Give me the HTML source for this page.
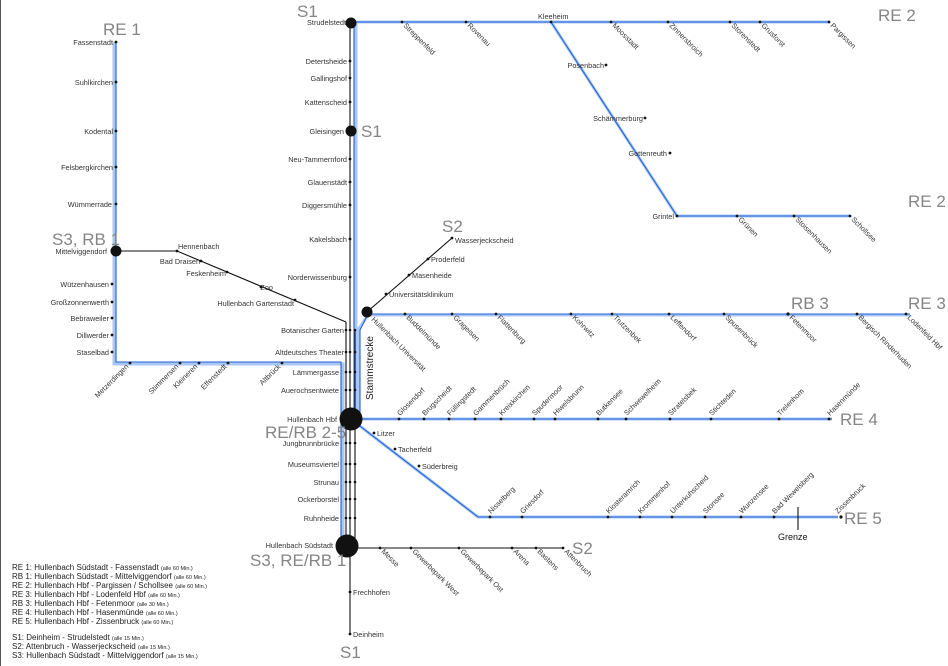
<!DOCTYPE html>
<html><head><meta charset="utf-8"><style>
html,body{margin:0;padding:0;background:#fff;width:948px;height:666px;overflow:hidden}
svg{display:block;font-family:"Liberation Sans",sans-serif}
.s{font-size:7.3px;fill:#333}
.b{font-size:17px;fill:#858585}
.lg{font-size:8px;fill:#222}
.lg tspan.m{font-size:5.5px}
</style></head><body>
<svg width="948" height="666" viewBox="0 0 948 666">
<line x1="0.5" y1="0" x2="0.5" y2="666" stroke="#555" stroke-width="1"/>
<g fill="none" stroke-linecap="butt">
<g stroke="#a8c7f4" stroke-width="3">
<polyline points="343,546 343,364 114,364 114,42"/>
<polyline points="356,420 356,22 830,22"/>
<line x1="551" y1="22" x2="677" y2="216"/>
<line x1="677" y1="216" x2="850" y2="216"/>
<polyline points="358,420 358,330 368,315 910,315"/>
<line x1="352" y1="419" x2="832" y2="419"/>
<polyline points="352,420 478,517 838,517"/>
</g>
<g stroke="#2361d4" stroke-width="1.1">
<polyline points="341,546 341,362 116,362 116,42"/>
<polyline points="354,420 354,22 830,22"/>
<line x1="551" y1="22" x2="677" y2="216"/>
<line x1="677" y1="216" x2="850" y2="216"/>
<polyline points="360,420 360,330 368,314 910,314"/>
<line x1="352" y1="419" x2="832" y2="419"/>
<polyline points="352,420 478,517 838,517"/>
</g>
<g stroke="#111" stroke-width="1.1">
<line x1="350" y1="22" x2="350" y2="634"/>
<line x1="346" y1="322" x2="346" y2="546"/>
<line x1="355" y1="330" x2="355" y2="546"/>
<polyline points="116,251 177,251 346,322"/>
<line x1="367" y1="312" x2="452" y2="238"/>
<line x1="350" y1="548" x2="563" y2="548"/>
<line x1="798" y1="507" x2="798" y2="530"/>
</g>
</g>
<g fill="#111">
<circle cx="350" cy="61" r="1.4"/><circle cx="350" cy="78" r="1.4"/><circle cx="350" cy="102" r="1.4"/><circle cx="350" cy="159" r="1.4"/><circle cx="350" cy="182" r="1.4"/><circle cx="350" cy="205" r="1.4"/><circle cx="350" cy="239" r="1.4"/><circle cx="350" cy="277" r="1.4"/>
<circle cx="346" cy="330" r="1.3"/><circle cx="350" cy="330" r="1.3"/><circle cx="355" cy="330" r="1.3"/>
<circle cx="346" cy="352" r="1.3"/><circle cx="350" cy="352" r="1.3"/><circle cx="355" cy="352" r="1.3"/>
<circle cx="346" cy="372" r="1.3"/><circle cx="350" cy="372" r="1.3"/><circle cx="355" cy="372" r="1.3"/>
<circle cx="346" cy="390" r="1.3"/><circle cx="350" cy="390" r="1.3"/><circle cx="355" cy="390" r="1.3"/>
<circle cx="346" cy="443" r="1.3"/><circle cx="350" cy="443" r="1.3"/><circle cx="355" cy="443" r="1.3"/>
<circle cx="346" cy="464" r="1.3"/><circle cx="350" cy="464" r="1.3"/><circle cx="355" cy="464" r="1.3"/>
<circle cx="346" cy="482" r="1.3"/><circle cx="350" cy="482" r="1.3"/><circle cx="355" cy="482" r="1.3"/>
<circle cx="346" cy="499" r="1.3"/><circle cx="350" cy="499" r="1.3"/><circle cx="355" cy="499" r="1.3"/>
<circle cx="346" cy="518" r="1.3"/><circle cx="350" cy="518" r="1.3"/><circle cx="355" cy="518" r="1.3"/>
<circle cx="350" cy="592" r="1.4"/><circle cx="350" cy="634" r="1.4"/>
<circle cx="402" cy="22" r="1.4"/><circle cx="466" cy="22" r="1.4"/><circle cx="551" cy="22" r="1.4"/><circle cx="611" cy="22" r="1.4"/><circle cx="668" cy="22" r="1.4"/><circle cx="730" cy="22" r="1.4"/><circle cx="760" cy="22" r="1.4"/><circle cx="829" cy="22" r="1.4"/>
<circle cx="606" cy="65" r="1.4"/><circle cx="645" cy="118" r="1.4"/><circle cx="670" cy="153" r="1.4"/><circle cx="677" cy="216" r="1.4"/>
<circle cx="737" cy="216" r="1.4"/><circle cx="794" cy="216" r="1.4"/><circle cx="850" cy="216" r="1.4"/>
<circle cx="386" cy="294" r="1.4"/><circle cx="409" cy="275" r="1.4"/><circle cx="428" cy="259" r="1.4"/><circle cx="452" cy="238" r="1.4"/>
<circle cx="405" cy="314" r="1.4"/><circle cx="452" cy="314" r="1.4"/><circle cx="496" cy="314" r="1.4"/><circle cx="571" cy="314" r="1.4"/><circle cx="612" cy="314" r="1.4"/><circle cx="669" cy="314" r="1.4"/><circle cx="724" cy="314" r="1.4"/><circle cx="788" cy="314" r="1.6"/><circle cx="857" cy="314" r="1.4"/><circle cx="906" cy="314" r="1.4"/>
<circle cx="399" cy="419" r="1.4"/><circle cx="424" cy="419" r="1.4"/><circle cx="449" cy="419" r="1.4"/><circle cx="475" cy="419" r="1.4"/><circle cx="501" cy="419" r="1.4"/><circle cx="534" cy="419" r="1.4"/><circle cx="555" cy="419" r="1.4"/><circle cx="598" cy="419" r="1.4"/><circle cx="626" cy="419" r="1.4"/><circle cx="670" cy="419" r="1.4"/><circle cx="711" cy="419" r="1.4"/><circle cx="779" cy="419" r="1.4"/><circle cx="829" cy="419" r="1.4"/>
<circle cx="374" cy="433" r="1.4"/><circle cx="395" cy="449" r="1.4"/><circle cx="419" cy="466" r="1.4"/>
<circle cx="490" cy="517" r="1.4"/><circle cx="522" cy="517" r="1.4"/><circle cx="608" cy="517" r="1.4"/><circle cx="640" cy="517" r="1.4"/><circle cx="672" cy="517" r="1.4"/><circle cx="705" cy="517" r="1.4"/><circle cx="741" cy="517" r="1.4"/><circle cx="774" cy="517" r="1.4"/><circle cx="841" cy="517" r="1.6"/>
<circle cx="380" cy="548" r="1.4"/><circle cx="411" cy="548" r="1.4"/><circle cx="459" cy="548" r="1.4"/><circle cx="512" cy="548" r="1.4"/><circle cx="536" cy="548" r="1.4"/><circle cx="563" cy="548" r="1.4"/>
<circle cx="116" cy="42" r="1.4"/><circle cx="116" cy="82" r="1.4"/><circle cx="116" cy="131" r="1.4"/><circle cx="116" cy="167" r="1.4"/><circle cx="116" cy="204" r="1.4"/>
<circle cx="112" cy="284" r="1.4"/><circle cx="112" cy="302" r="1.4"/><circle cx="112" cy="318" r="1.4"/><circle cx="112" cy="335" r="1.4"/><circle cx="112" cy="352" r="1.4"/>
<circle cx="130" cy="363" r="1.4"/><circle cx="180" cy="363" r="1.4"/><circle cx="199" cy="363" r="1.4"/><circle cx="228" cy="363" r="1.4"/><circle cx="282" cy="363" r="1.4"/>
<circle cx="177" cy="251" r="1.4"/><circle cx="201" cy="261" r="1.4"/><circle cx="227" cy="272" r="1.4"/><circle cx="261" cy="287" r="1.4"/><circle cx="295" cy="300" r="1.4"/>
<circle cx="351" cy="23" r="5.5"/><circle cx="351" cy="131" r="5.5"/><circle cx="116" cy="251" r="5.5"/><circle cx="367" cy="312" r="5.5"/>
<circle cx="351" cy="419" r="11.5"/><circle cx="347" cy="546" r="11.5"/>
</g>

<g class="b">
<text x="103" y="35">RE 1</text>
<text x="297" y="17">S1</text>
<text x="361" y="137">S1</text>
<text x="52" y="245">S3, RB 1</text>
<text x="442" y="232">S2</text>
<text x="878" y="21">RE 2</text>
<text x="908" y="207">RE 2</text>
<text x="791" y="309">RB 3</text>
<text x="908" y="309">RE 3</text>
<text x="840" y="425">RE 4</text>
<text x="265" y="438">RE/RB 2-5</text>
<text x="844" y="524">RE 5</text>
<text x="572" y="554">S2</text>
<text x="250" y="566">S3, RE/RB 1</text>
<text x="340" y="658">S1</text>
</g>
<text x="0" y="0" transform="translate(373,400) rotate(-90)" style="font-size:10px;fill:#222">Stammstrecke</text>
<text x="778" y="540" style="font-size:9px;fill:#111">Grenze</text>

<g class="s" text-anchor="end">
<text x="346" y="25">Strudelstedt</text>
<text x="347" y="64">Detertsheide</text>
<text x="347" y="81">Gallingshof</text>
<text x="347" y="105">Kattenscheid</text>
<text x="344" y="134">Gleisingen</text>
<text x="347" y="162">Neu-Tammernford</text>
<text x="347" y="185">Glauenstädt</text>
<text x="347" y="208">Diggersmühle</text>
<text x="347" y="242">Kakelsbach</text>
<text x="347" y="280">Norderwissenburg</text>
<text x="344" y="333">Botanischer Garten</text>
<text x="344" y="355">Altdeutsches Theater</text>
<text x="339" y="375">Lämmergasse</text>
<text x="339" y="393">Auerochsentwiete</text>
<text x="337" y="422">Hullenbach Hbf</text>
<text x="339" y="446">Jungbrunnbrücke</text>
<text x="339" y="467">Museumsviertel</text>
<text x="339" y="485">Strunau</text>
<text x="339" y="502">Ockerborstel</text>
<text x="339" y="521">Ruhnheide</text>
<text x="333" y="548">Hullenbach Südstadt</text>
<text x="113" y="45">Fassenstadt</text>
<text x="113" y="85">Suhlkirchen</text>
<text x="113" y="134">Kodental</text>
<text x="113" y="170">Felsbergkirchen</text>
<text x="112" y="207">Wümmerrade</text>
<text x="107" y="254">Mittelviggendorf</text>
<text x="109" y="287">Wützenhausen</text>
<text x="109" y="305">Großzonnenwerth</text>
<text x="109" y="321">Bebraweiler</text>
<text x="109" y="338">Dillwerder</text>
<text x="109" y="355">Staselbad</text>
<text x="200" y="264">Bad Draisen</text>
<text x="226" y="276">Feskenheim</text>
<text x="273" y="290">Zoo</text>
<text x="294" y="306">Hullenbach Gartenstadt</text>
<text x="604" y="68">Posenbach</text>
<text x="643" y="121">Schämmerburg</text>
<text x="667" y="156">Gottenreuth</text>
<text x="674" y="219">Grintel</text>
</g>
<g class="s">
<text x="178" y="249">Hennenbach</text>
<text x="389" y="297">Universitätsklinikum</text>
<text x="412" y="278">Masenheide</text>
<text x="431" y="262">Proderfeld</text>
<text x="455" y="243">Wasserjeckscheid</text>
<text x="377" y="436">Litzer</text>
<text x="398" y="452">Tacherfeld</text>
<text x="422" y="469">Süderbreig</text>
<text x="353" y="595">Frechhofen</text>
<text x="353" y="637">Deinheim</text>
<text x="538" y="19">Kleeheim</text>
</g>
<g class="s">
<text transform="translate(403,26) rotate(45)">Streppenfeld</text>
<text transform="translate(467,26) rotate(45)">Rovenau</text>
<text transform="translate(612,26) rotate(45)">Moosstadt</text>
<text transform="translate(669,26) rotate(45)">Zinnersbroich</text>
<text transform="translate(731,26) rotate(45)">Storenstedt</text>
<text transform="translate(761,26) rotate(45)">Grusforst</text>
<text transform="translate(830,26) rotate(45)">Pargissen</text>
<text transform="translate(738,220) rotate(45)">Grünen</text>
<text transform="translate(795,220) rotate(45)">Stoisenhausen</text>
<text transform="translate(851,220) rotate(45)">Schollsee</text>
<text transform="translate(371,320) rotate(45)">Hullenbach Universität</text>
<text transform="translate(406,318) rotate(45)">Buddelmünde</text>
<text transform="translate(453,318) rotate(45)">Grageisen</text>
<text transform="translate(497,318) rotate(45)">Flattenburg</text>
<text transform="translate(572,318) rotate(45)">Kohrwitz</text>
<text transform="translate(613,318) rotate(45)">Trutzenbek</text>
<text transform="translate(670,318) rotate(45)">Leffendorf</text>
<text transform="translate(725,318) rotate(45)">Spusenbrück</text>
<text transform="translate(789,318) rotate(45)">Fetenmoor</text>
<text transform="translate(858,318) rotate(45)">Bergisch Rinderhuden</text>
<text transform="translate(907,318) rotate(45)">Lodenfeld Hbf</text>
<text transform="translate(381,552) rotate(45)">Messe</text>
<text transform="translate(412,552) rotate(45)">Gewerbepark West</text>
<text transform="translate(460,552) rotate(45)">Gewerbepark Ost</text>
<text transform="translate(513,552) rotate(45)">Arena</text>
<text transform="translate(537,552) rotate(45)">Bastens</text>
<text transform="translate(564,552) rotate(45)">Attenbruch</text>
</g>
<g class="s">
<text transform="translate(400,416) rotate(-45)">Glosendorf</text>
<text transform="translate(425,416) rotate(-45)">Brugscheidt</text>
<text transform="translate(450,416) rotate(-45)">Füllingstedt</text>
<text transform="translate(476,416) rotate(-45)">Gammenbrüch</text>
<text transform="translate(502,416) rotate(-45)">Kreixkirchen</text>
<text transform="translate(535,416) rotate(-45)">Spudermoor</text>
<text transform="translate(556,416) rotate(-45)">Hiwelsbrunn</text>
<text transform="translate(599,416) rotate(-45)">Butkensee</text>
<text transform="translate(627,416) rotate(-45)">Schwewelheim</text>
<text transform="translate(671,416) rotate(-45)">Stratelsbek</text>
<text transform="translate(712,416) rotate(-45)">Stichteden</text>
<text transform="translate(780,416) rotate(-45)">Trelenhom</text>
<text transform="translate(830,416) rotate(-45)">Hasenmünde</text>
<text transform="translate(491,514) rotate(-45)">Nisselberg</text>
<text transform="translate(523,514) rotate(-45)">Griesdorf</text>
<text transform="translate(609,514) rotate(-45)">Klosteramrich</text>
<text transform="translate(641,514) rotate(-45)">Krommenhof</text>
<text transform="translate(673,514) rotate(-45)">Unterkuhscheid</text>
<text transform="translate(706,514) rotate(-45)">Stonsee</text>
<text transform="translate(742,514) rotate(-45)">Wunzensee</text>
<text transform="translate(775,514) rotate(-45)">Bad Wewelsberg</text>
<text transform="translate(838,514) rotate(-45)">Zissenbruck</text>
</g>
<g class="s" text-anchor="end">
<text transform="translate(129,367) rotate(-45)">Metzerdingen</text>
<text transform="translate(179,367) rotate(-45)">Stimmersen</text>
<text transform="translate(198,367) rotate(-45)">Kleineren</text>
<text transform="translate(227,367) rotate(-45)">Effenstedt</text>
<text transform="translate(281,367) rotate(-45)">Altbrück</text>
</g>
<g class="lg">
<text x="12" y="570">RE 1: Hullenbach Südstadt - Fassenstadt <tspan class="m">(alle 60 Min.)</tspan></text>
<text x="12" y="579">RB 1: Hullenbach Südstadt - Mittelviggendorf <tspan class="m">(alle 60 Min.)</tspan></text>
<text x="12" y="588">RE 2: Hullenbach Hbf - Pargissen / Schollsee <tspan class="m">(alle 60 Min.)</tspan></text>
<text x="12" y="597">RE 3: Hullenbach Hbf - Lodenfeld Hbf <tspan class="m">(alle 60 Min.)</tspan></text>
<text x="12" y="606">RB 3: Hullenbach Hbf - Fetenmoor <tspan class="m">(alle 30 Min.)</tspan></text>
<text x="12" y="615">RE 4: Hullenbach Hbf - Hasenmünde <tspan class="m">(alle 60 Min.)</tspan></text>
<text x="12" y="624">RE 5: Hullenbach Hbf - Zissenbruck <tspan class="m">(alle 60 Min.)</tspan></text>
<text x="12" y="640">S1: Deinheim - Strudelstedt <tspan class="m">(alle 15 Min.)</tspan></text>
<text x="12" y="649">S2: Attenbruch - Wasserjeckscheid <tspan class="m">(alle 15 Min.)</tspan></text>
<text x="12" y="658">S3: Hullenbach Südstadt - Mittelviggendorf <tspan class="m">(alle 15 Min.)</tspan></text>
</g>
</svg>
</body></html>
